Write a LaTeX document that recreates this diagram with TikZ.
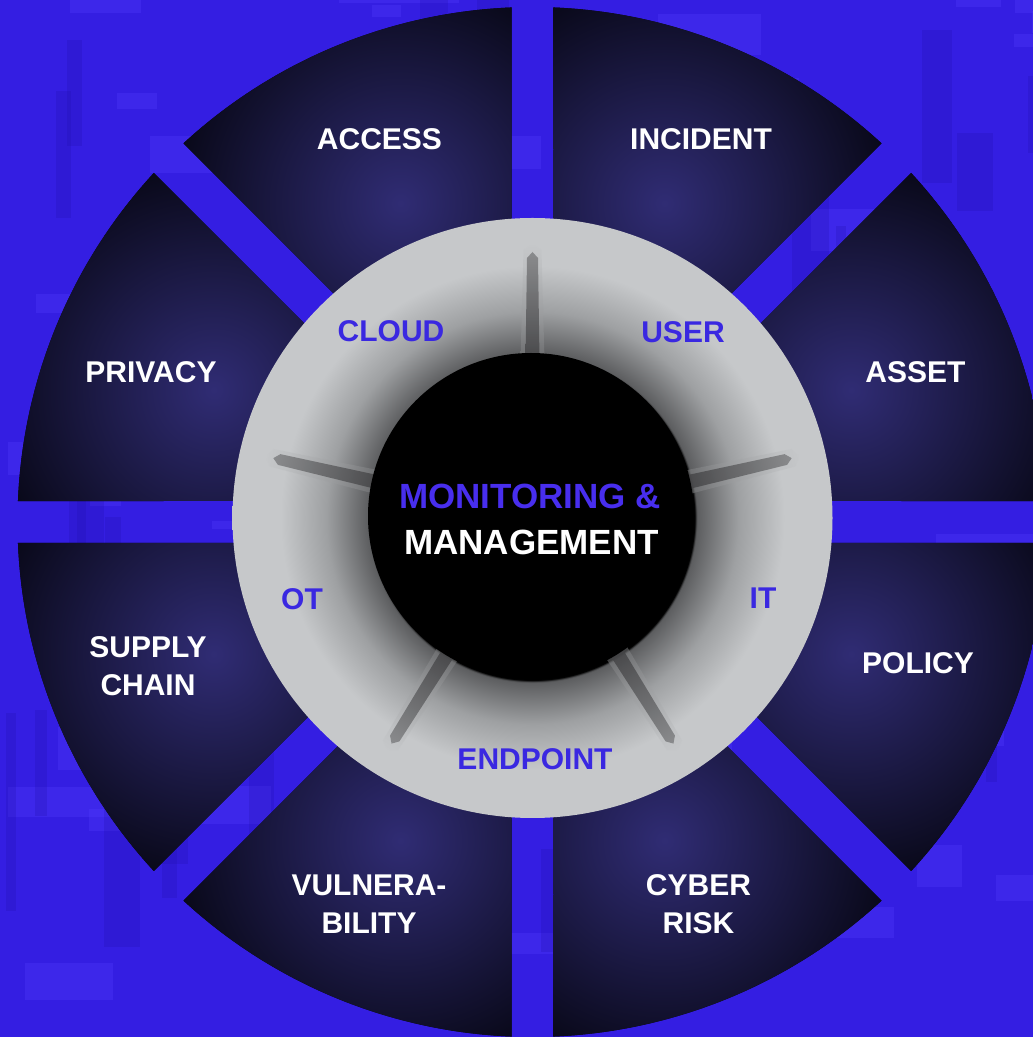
\documentclass[tikz,border=0pt]{standalone}
\usepackage{fontspec}
\setmainfont{Liberation Sans}
\usetikzlibrary{calc}
\definecolor{bgBlue}{RGB}{52,30,226}
\definecolor{bgLight}{RGB}{84,62,255}
\definecolor{bgDark}{RGB}{34,18,176}
\definecolor{glowC}{RGB}{48,44,116}
\definecolor{secDark}{RGB}{5,5,16}
\definecolor{blk}{RGB}{0,0,0}
\definecolor{ringL}{RGB}{198,200,202}
\definecolor{ringM}{RGB}{158,160,162}
\definecolor{ringD}{RGB}{92,93,95}
\definecolor{spokeD}{RGB}{66,66,68}
\definecolor{spokeM}{RGB}{128,129,131}
\definecolor{labBlue}{RGB}{58,40,225}
\definecolor{midBlue}{RGB}{72,46,238}
\pgfdeclareradialshading{secshade}{\pgfpoint{0bp}{0bp}}{color(0bp)=(glowC); color(25bp)=(secDark); color(50bp)=(secDark)}
\pgfdeclareradialshading{ringshade}{\pgfpoint{0bp}{0bp}}{color(0bp)=(blk); color(13.5bp)=(blk); color(13.7bp)=(ringD); color(17.2bp)=(ringM); color(21bp)=(ringL); color(25bp)=(ringL); color(50bp)=(ringL)}
\begin{document}
\begin{tikzpicture}[x=1pt,y=1pt,
  outerlab/.style={text=white, font=\bfseries\fontsize{30}{38}\selectfont, align=center, inner sep=0pt},
  ringlab/.style={text=labBlue, font=\bfseries\fontsize{30}{36}\selectfont, inner sep=0pt},
  midlab/.style={font=\bfseries\fontsize{35}{42}\selectfont, inner sep=0pt}]
\useasboundingbox (0,0) rectangle (1033,1037);
\clip (0,0) rectangle (1033,1037);
% background with city-like texture
\fill[bgBlue] (0,0) rectangle (1033,1037);
\pgfmathsetseed{42}
\foreach \i in {1,...,70}{
  \pgfmathsetmacro\rx{rnd*1033}
  \pgfmathsetmacro\ry{rnd*1037}
  \pgfmathsetmacro\rw{20+rnd*120}
  \pgfmathsetmacro\rh{8+rnd*36}
  \fill[bgLight, opacity=0.3] (\rx,\ry) rectangle ++(\rw,\rh);
}
\foreach \i in {1,...,40}{
  \pgfmathsetmacro\rx{rnd*1033}
  \pgfmathsetmacro\ry{rnd*1037}
  \pgfmathsetmacro\rw{8+rnd*30}
  \pgfmathsetmacro\rh{40+rnd*160}
  \fill[bgDark, opacity=0.25] (\rx,\ry) rectangle ++(\rw,\rh);
}
\coordinate (C) at (532.5,515);
\coordinate (R) at (532.5,519);
% eight outer sectors
\foreach \a in {0,45,...,315}{
  \begin{scope}
    \clip ($(C)+(\a+22.5:54.9)$) -- ($(C)+(\a+2.337:515)$)
      arc[start angle=\a+2.337, end angle=\a+42.663, radius=515] -- cycle;
    \fill[secDark] (C) circle (520);
    \shade[shading=secshade] ($(C)+(\a+22.5:345)$) circle (250);
  \end{scope}
}
% grey ring
\shade[shading=ringshade] (R) circle (300);
% spokes (soft grooves)
\foreach \a in {90,167,238,302,13}{
  \shade[transform canvas={shift={(532.5,519)}, rotate=\a}, left color=spokeM, right color=ringL, opacity=0.5]
    (158,-12) -- (268,-9) -- (274,0) -- (268,9) -- (158,12) -- cycle;
  \shade[transform canvas={shift={(532.5,519)}, rotate=\a}, left color=spokeD, right color=spokeM, opacity=0.85]
    (158,-7) -- (260,-5.5) -- (266,0) -- (260,5.5) -- (158,7) -- cycle;
}
% inner black disc
\fill[blk] (531,521) circle (163);
% outer labels
\node[outerlab] (access) at (379.5,898) {ACCESS};
\node[outerlab] (incident) at (701,898) {INCIDENT};
\node[outerlab] (privacy) at (151,664.5) {PRIVACY};
\node[outerlab] (asset) at (915.5,664.5) {ASSET};
\node[outerlab] (supply) at (148,371) {SUPPLY\\CHAIN};
\node[outerlab] (policy) at (918,373.5) {POLICY};
\node[outerlab] (vuln) at (369,132.5) {VULNERA-\\BILITY};
\node[outerlab] (cyber) at (698.5,132.5) {CYBER\\RISK};
% ring labels
\node[ringlab] (cloud) at (391,705.5) {CLOUD};
\node[ringlab] (user) at (683,704.5) {USER};
\node[ringlab] (ot) at (302,438) {OT};
\node[ringlab] (it) at (763,438.5) {IT};
\node[ringlab] (endpoint) at (535,277.5) {ENDPOINT};
% centre
\node[midlab, text=midBlue] (mon) at (530,540.5) {MONITORING \&};
\node[midlab, text=white] (man) at (531.5,494.5) {MANAGEMENT};
\end{tikzpicture}
\end{document}
